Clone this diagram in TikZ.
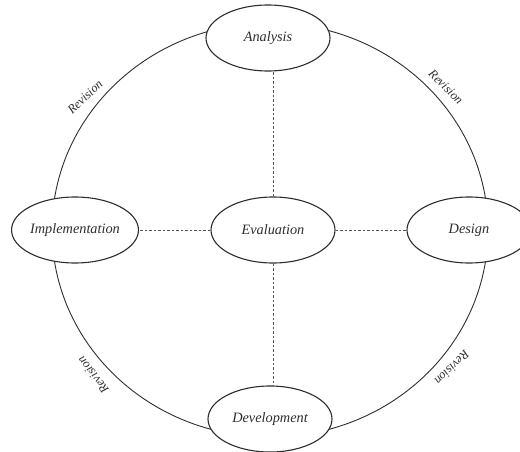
\documentclass[tikz,border=0pt]{standalone}
\usepackage{fontspec}
\setmainfont{Liberation Serif}
\usetikzlibrary{shapes.geometric}
\definecolor{ink}{HTML}{2E2E2E}
\definecolor{dashc}{HTML}{555555}
\tikzset{
  stage/.style={ellipse, draw=ink, line width=1.1pt, fill=white, minimum width=124pt, minimum height=66pt, inner sep=0pt, font=\fontsize{14.3}{16}\selectfont\itshape, text=ink},
  revlabel/.style={font=\fontsize{12.5}{14}\selectfont\itshape, text=ink, inner sep=0pt},
  link/.style={draw=dashc, line width=0.8pt, dash pattern=on 2.5pt off 2pt},
  ring/.style={draw=ink, line width=0.9pt}
}
\begin{document}
\begin{tikzpicture}[x=1pt,y=-1pt]
\useasboundingbox (0,0) rectangle (520,452);
\clip (0,0) rectangle (520,452);
\draw[ring] (270,230) ellipse [x radius=218pt, y radius=207pt];
\node[stage] (eval) at (273,230) {Evaluation};
\node[stage] (ana) at (268,38) {Analysis};
\node[stage] (impl) at (75,230) {Implementation};
\node[stage] (des) at (469,230) {Design};
\node[stage] (dev) at (270,419) {Development};
\draw[link] (eval.north) -- (eval.north |- ana.south);
\draw[link] (eval.south) -- (eval.south |- dev.north);
\draw[link] (eval.west) -- (impl.east);
\draw[link] (eval.east) -- (des.west);
\node[revlabel, rotate=44] (r1) at (85,97) {Revision};
\node[revlabel, rotate=-45] (r2) at (446,87) {Revision};
\node[revlabel, rotate=128] (r3) at (93,375) {Revision};
\node[revlabel, rotate=-135] (r4) at (452,368) {Revision};
\end{tikzpicture}
\end{document}
